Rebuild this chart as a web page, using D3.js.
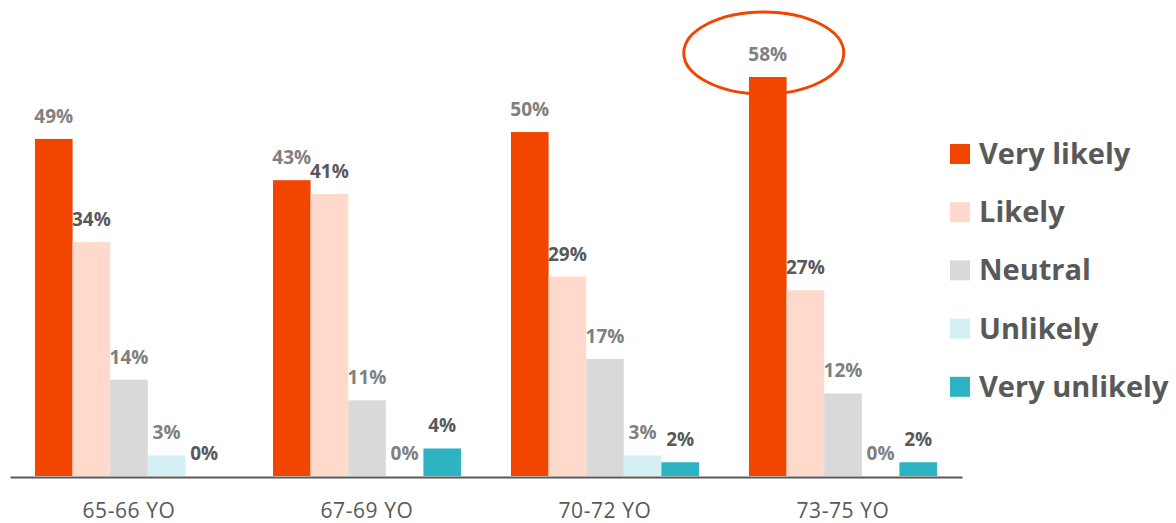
<!DOCTYPE html>
<html>
<head>
<meta charset="utf-8">
<script src="https://cdn.jsdelivr.net/npm/d3@7"></script>
<style>
  html, body { margin: 0; padding: 0; background: #ffffff; }
  svg { display: block; font-family: "Open Sans", "Noto Sans", sans-serif; }
</style>
</head>
<body>
<svg id="chart" width="1176" height="523"></svg>
<script>
// Age groups along the x axis
const categories = ["65-66 YO", "67-69 YO", "70-72 YO", "73-75 YO"];
// Answer options, one bar per option in each group
const seriesNames = ["Very likely", "Likely", "Neutral", "Unlikely", "Very unlikely"];
// Percentages per answer option, in category order
const veryLikely   = [49, 43, 50, 58];
const likely       = [34, 41, 29, 27];
const neutral      = [14, 11, 17, 12];
const unlikely     = [3, 0, 3, 0];
const veryUnlikely = [0, 4, 2, 2];

const seriesValues = [veryLikely, likely, neutral, unlikely, veryUnlikely];
const seriesColors = ["#F24500", "#FFD9CB", "#D9D9D9", "#D5F0F4", "#2EB3C3"];
const labelColors  = ["#808080", "#595959", "#808080", "#808080", "#595959"];

const svg = d3.select("#chart");

const baseline = 476;
const x0 = d3.scaleBand().domain(categories).range([10, 962]).padding(0);
const bw = x0.bandwidth();
const x1 = d3.scaleBand().domain(seriesNames).range([bw * 0.105, bw * 0.895]).padding(0);
const y = d3.scaleLinear().domain([0, 58]).range([baseline, 77]);

const rows = [];
categories.forEach((c, ci) => {
  seriesNames.forEach((s, si) => {
    rows.push({ cat: c, series: s, si, value: seriesValues[si][ci] });
  });
});

// Bars
svg.append("g").selectAll("rect")
  .data(rows)
  .join("rect")
  .attr("x", d => x0(d.cat) + x1(d.series))
  .attr("y", d => y(d.value))
  .attr("width", x1.bandwidth())
  .attr("height", d => baseline - y(d.value))
  .attr("fill", d => seriesColors[d.si]);

// Value labels above bars
svg.append("g").selectAll("text")
  .data(rows)
  .join("text")
  .attr("x", d => x0(d.cat) + x1(d.series) + x1.bandwidth() / 2)
  .attr("y", d => y(d.value) - 16)
  .attr("text-anchor", "middle")
  .attr("font-size", 19)
  .attr("font-weight", 700)
  .attr("fill", d => labelColors[d.si])
  .text(d => d.value + "%");

// Category axis
const xAxis = svg.append("g")
  .attr("transform", `translate(0,${baseline + 1})`)
  .call(d3.axisBottom(x0).tickSize(0).tickPadding(0));
xAxis.select(".domain").attr("stroke", "#595959").attr("stroke-width", 2);
xAxis.selectAll(".tick text")
  .attr("y", 41)
  .attr("dy", 0)
  .attr("font-size", 21)
  .attr("letter-spacing", 0.6)
  .attr("font-family", "\"Open Sans\", sans-serif")
  .attr("fill", "#595959");

// Highlight ring around the largest value
const hiCat = categories[3];
const hiX = x0(hiCat) + x1("Very likely") + x1.bandwidth() / 2;
svg.append("ellipse")
  .attr("cx", hiX - 4)
  .attr("cy", y(veryLikely[3]) - 24)
  .attr("rx", 80)
  .attr("ry", 41)
  .attr("fill", "none")
  .attr("stroke", "#F24500")
  .attr("stroke-width", 3);

// Legend
const legend = svg.append("g").attr("transform", "translate(950,154)");
const items = legend.selectAll("g")
  .data(seriesNames)
  .join("g")
  .attr("transform", (d, i) => `translate(0,${i * 58.2})`);
items.append("rect")
  .attr("x", 0).attr("y", -10)
  .attr("width", 20).attr("height", 20)
  .attr("fill", (d, i) => seriesColors[i]);
items.append("text")
  .attr("x", 29)
  .attr("y", 10)
  .attr("font-size", 29)
  .attr("font-weight", 700)
  .attr("fill", "#595959")
  .text(d => d);
</script>
</body>
</html>
